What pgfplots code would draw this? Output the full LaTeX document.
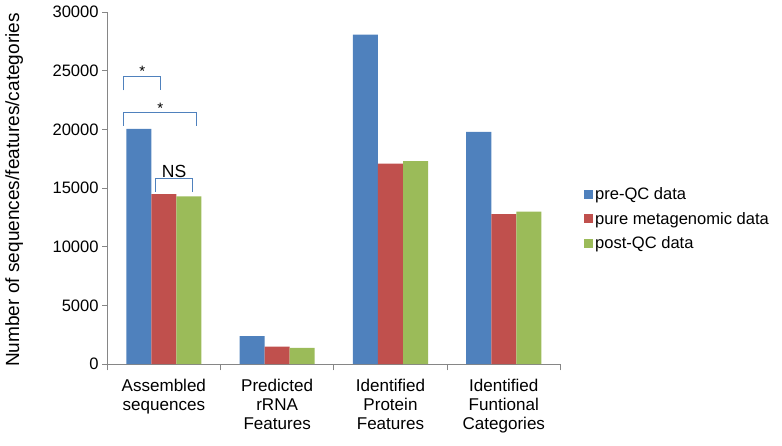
\documentclass[border=0pt]{standalone}
\usepackage{pgfplots}
\pgfplotsset{compat=1.18}
\usepackage{fontspec}
\setmainfont{Liberation Sans}
\definecolor{cblue}{HTML}{4F81BD}
\definecolor{cred}{HTML}{C0504D}
\definecolor{cgreen}{HTML}{9BBB59}
\definecolor{axgray}{HTML}{868686}
\pgfplotsset{mybar/.style={ybar, fill=#1, draw=none, bar width=0.221,
  legend image code/.code={\fill[#1] (0pt,-4.5pt) rectangle (9pt,4.5pt);}}}
\begin{document}
\begin{tikzpicture}
\begin{axis}[
  width=452pt, height=351pt, scale only axis,
  xmin=-0.5, xmax=3.5, ymin=0, ymax=30000,
  axis x line*=bottom, axis y line*=left,
  axis line style={axgray, line width=0.8pt},
  every tick/.style={axgray, line width=0.8pt},
  tick align=outside,
  major tick length=5pt, minor tick length=6pt,
  ytick={0,5000,...,30000},
  scaled y ticks=false,
  /pgf/number format/assume math mode=true,
  yticklabel={\pgfmathprintnumber[fixed,1000 sep={}]{\tick}},
  yticklabel style={font=\fontsize{16.5}{18}\selectfont, black},
  xtick={0,1,2,3},
  major x tick style={draw=none},
  minor xtick={-0.5,0.5,1.5,2.5,3.5},
  xticklabels={{Assembled\\sequences},{Predicted\\rRNA\\Features},{Identified\\Protein\\Features},{Identified\\Funtional\\Categories}},
  xticklabel style={align=center, font=\fontsize{17}{19}\selectfont, yshift=-6pt, anchor=north},
  ylabel={Number of sequences/features/categories},
  ylabel style={at={(axis description cs:-0.205,0.495)}, anchor=center, font=\fontsize{19}{21}\selectfont},
  legend style={at={(1.045,0.413)}, anchor=west, draw=none, fill=none,
    font=\fontsize{16.5}{19}\selectfont, row sep=7pt},
  legend cell align=left,
]
\addplot[mybar=cblue, bar shift=-0.221] coordinates {(0,20050) (1,2400) (2,28100) (3,19800)};
\addplot[mybar=cred, bar shift=0] coordinates {(0,14500) (1,1500) (2,17100) (3,12800)};
\addplot[mybar=cgreen, bar shift=0.221] coordinates {(0,14300) (1,1400) (2,17300) (3,13000)};
\legend{pre-QC data, pure metagenomic data, post-QC data}
\draw[cblue, line width=1.2pt] (axis cs:-0.354,23330) -- (axis cs:-0.354,24530) -- (axis cs:-0.027,24530) -- (axis cs:-0.027,23330);
\draw[cblue, line width=1.2pt] (axis cs:-0.354,20340) -- (axis cs:-0.354,21450) -- (axis cs:0.29,21450) -- (axis cs:0.29,20340);
\draw[cblue, line width=1.2pt] (axis cs:-0.07,14700) -- (axis cs:-0.07,15810) -- (axis cs:0.25,15810) -- (axis cs:0.25,14700);
\node[font=\fontsize{15}{16}\selectfont, inner sep=0pt] at (axis cs:-0.19,24950) {*};
\node[font=\fontsize{15}{16}\selectfont, inner sep=0pt] at (axis cs:-0.03,21850) {*};
\node[font=\fontsize{17.5}{19}\selectfont, inner sep=0pt, anchor=base] at (axis cs:0.09,15900) {NS};
\end{axis}
\path ([shift={(-2pt,-9pt)}]current bounding box.south west) ([shift={(8pt,3pt)}]current bounding box.north east);
\end{tikzpicture}
\end{document}
